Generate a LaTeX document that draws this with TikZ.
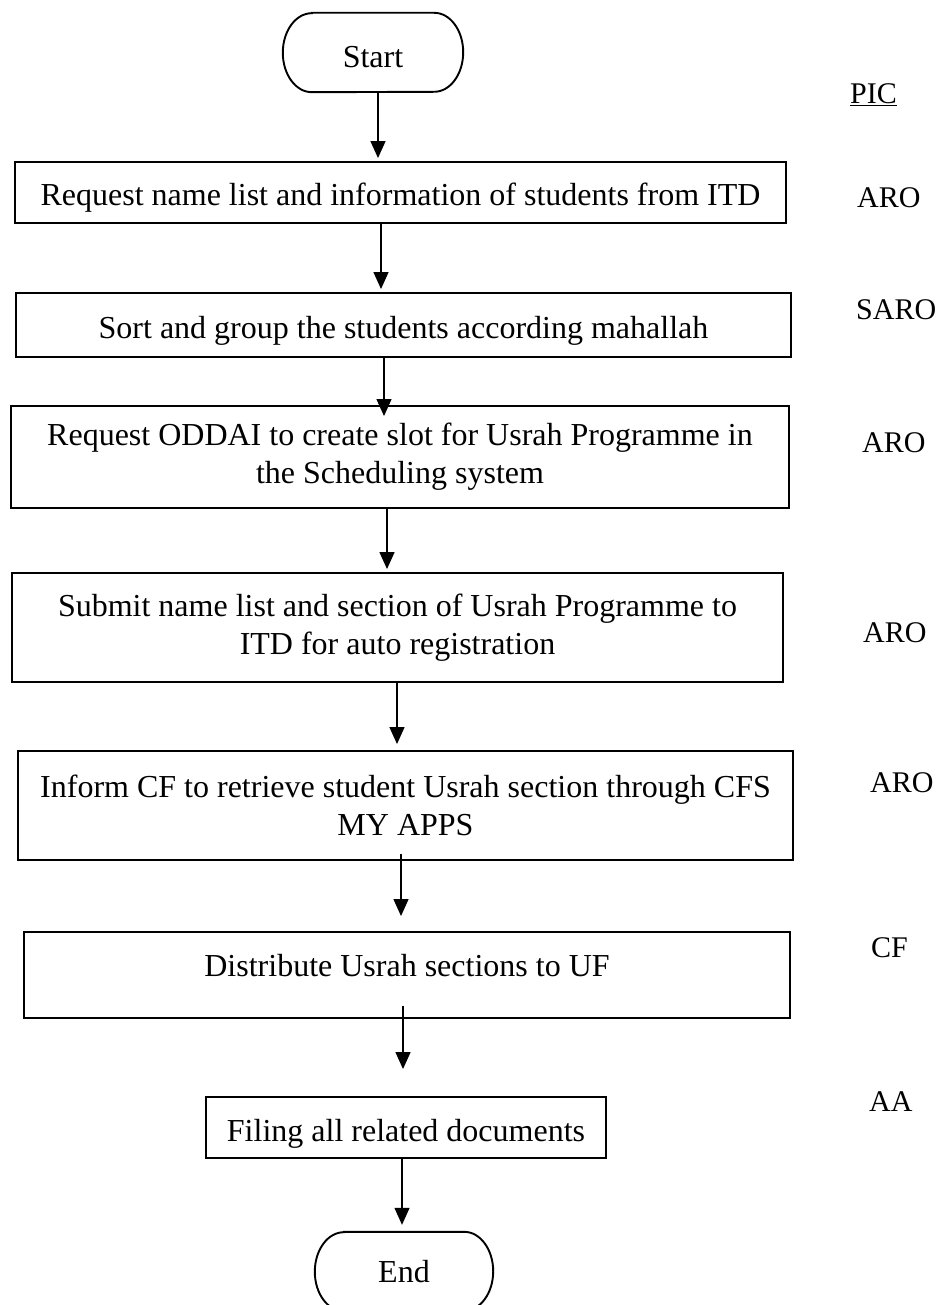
\documentclass[tikz,border=0pt]{standalone}
\usepackage{fontspec}
\setmainfont{Liberation Serif}
\usetikzlibrary{arrows.meta}
\begin{document}
\begin{tikzpicture}[x=1pt,y=-1pt,
  box/.style={draw, line width=1.9pt, inner sep=0pt, align=center, font=\fontsize{32}{38}\selectfont},
  onel/.style={text height=34pt, text depth=7pt},
  term/.style={inner sep=0pt, minimum width=180pt, minimum height=79pt, font=\fontsize{32}{38}\selectfont},
  termline/.style={line width=1.9pt},
  role/.style={anchor=west, inner sep=0pt, font=\fontsize{30}{34}\selectfont},
  arr/.style={line width=1.3pt, -{Triangle[length=17pt,width=15pt]}}]
\useasboundingbox (0,0) rectangle (936,1305);
% terminals
\node[term, text height=31pt, text depth=0pt] (start) at (373,52.5) {Start};
\node[term, minimum width=178pt] (end) at (404,1271.5) {End};
\draw[termline] ([xshift=29pt]start.north west) -- ([xshift=-29pt]start.north east)
  arc[start angle=90,end angle=-90,x radius=29pt,y radius=39.5pt]
  -- ([xshift=29pt]start.south west)
  arc[start angle=270,end angle=90,x radius=29pt,y radius=39.5pt] -- cycle;
\draw[termline] ([xshift=29pt]end.north west) -- ([xshift=-29pt]end.north east)
  arc[start angle=90,end angle=-90,x radius=29pt,y radius=39.5pt]
  -- ([xshift=29pt]end.south west)
  arc[start angle=270,end angle=90,x radius=29pt,y radius=39.5pt] -- cycle;
% process boxes
\node[box, onel, minimum width=771pt, minimum height=61pt] (b1) at (400.5,192.5) {Request name list and information of students from ITD};
\node[box, onel, minimum width=775pt, minimum height=64pt] (b2) at (403.5,325) {Sort and group the students according mahallah};
\node[box, minimum width=778pt, minimum height=102pt] (b3) at (400,457) {Request ODDAI to create slot for Usrah Programme in\\ the Scheduling system};
\node[box, minimum width=771pt, minimum height=109pt] (b4) at (397.5,627.5) {Submit name list and section of Usrah Programme to\\ ITD for auto registration};
\node[box, minimum width=775pt, minimum height=109pt] (b5) at (405.5,805.5) {Inform CF to retrieve student Usrah section through CFS\\ MY APPS};
\node[box, minimum width=766pt, minimum height=86pt] (b6) at (407,975) {};
\node[font=\fontsize{32}{38}\selectfont, inner sep=0pt] (t6) at (407,966) {Distribute Usrah sections to UF};
\node[box, onel, minimum width=400pt, minimum height=61pt] (b7) at (406,1127.5) {Filing all related documents};
% roles
\node[role] (pic) at (850,95) {\underline{PIC}};
\node[role] (r1) at (857,198) {ARO};
\node[role] (r2) at (856,310) {SARO};
\node[role] (r3) at (862,443) {ARO};
\node[role] (r4) at (863,633) {ARO};
\node[role] (r5) at (870,783) {ARO};
\node[role] (r6) at (871,948) {CF};
\node[role] (r7) at (869,1102) {AA};
% arrows
\draw[arr, shorten >=3pt] (start.south -| 378,0) -- (b1.north -| 378,0);
\draw[arr, shorten >=3pt] (b1.south -| 381,0) -- (b2.north -| 381,0);
\draw[arr, shorten >=-11pt] (b2.south -| 384,0) -- (b3.north -| 384,0);
\draw[arr, shorten >=3pt] (b3.south -| 387,0) -- (b4.north -| 387,0);
\draw[arr, shorten >=6pt] (b4.south -| 397,0) -- (b5.north -| 397,0);
\draw[arr, shorten <=-7pt, shorten >=15pt] (b5.south -| 401,0) -- (b6.north -| 401,0);
\draw[arr, shorten <=-13pt, shorten >=27pt] (b6.south -| 403,0) -- (b7.north -| 403,0);
\draw[arr, shorten >=7pt] (b7.south -| 402,0) -- (end.north -| 402,0);
\end{tikzpicture}
\end{document}
